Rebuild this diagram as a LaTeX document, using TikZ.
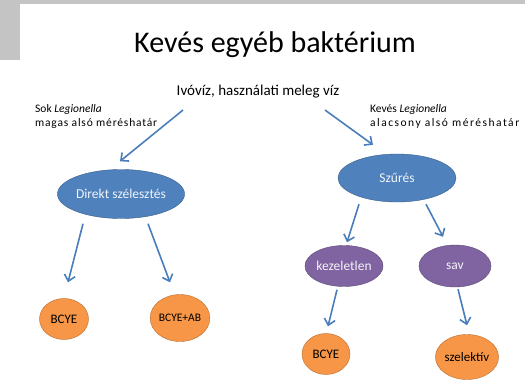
\documentclass[tikz,border=0pt]{standalone}
\usepackage{fontspec}
\setmainfont{Carlito}
\usetikzlibrary{arrows.meta, positioning, calc, shapes.geometric}

\definecolor{kekfill}{HTML}{4F81BD}
\definecolor{kekline}{HTML}{385D8A}
\definecolor{lilafill}{HTML}{8064A2}
\definecolor{lilaline}{HTML}{5C4776}
\definecolor{narancsfill}{HTML}{F79646}
\definecolor{narancsline}{HTML}{B66D31}
\definecolor{nyil}{HTML}{4A7EBB}
\definecolor{keret}{HTML}{C4C4C4}

\begin{document}
\begin{tikzpicture}[
    x=1pt, y=-1pt,
    >={Straight Barb[length=6pt, width=11pt]},
    arr/.style={->, draw=nyil, line width=1.6pt},
    kek/.style={draw=kekline, fill=kekfill, ellipse, inner sep=0pt, text=white!92!kekfill, font=\fontsize{13.5}{15}\selectfont},
    lila/.style={draw=lilaline, fill=lilafill, ellipse, inner sep=0pt, text=white!92!lilafill, font=\fontsize{13.5}{15}\selectfont},
    narancs/.style={draw=narancsline, fill=narancsfill, ellipse, inner sep=0pt, text=black, font=\fontsize{13}{14}\selectfont},
    megj/.style={align=left, anchor=north west, inner sep=0pt, font=\fontsize{11.5}{14}\selectfont}
  ]
  \useasboundingbox (0,0) rectangle (525,383);
  % --- keret ---
  \fill[keret] (0,0) rectangle (525,4);
  \fill[keret] (0,0) rectangle (20,60);

  % --- cim ---
  \node (cim) at (275,45) {\fontsize{30}{33}\selectfont Kevés egyéb baktérium};
  \node (ivo) at (258,92) {\fontsize{15}{17}\selectfont Ivóvíz, használati meleg víz};
  \node[megj] (sok) at (35,104) {Sok \textit{Legionella}\\ \addfontfeature{LetterSpace=7}magas alsó méréshatár};
  \node[megj] (keves) at (370,104) {Kevés \textit{Legionella}\\ \addfontfeature{LetterSpace=13}alacsony alsó méréshatár};

  % --- bal ag ---
  \node[kek, minimum width=117pt, minimum height=49pt] (direkt) at (121,194) {Direkt szélesztés};
  \node[narancs, minimum width=49pt, minimum height=41pt] (bcyea) at (64,319) {BCYE};
  \node[narancs, minimum width=53pt, minimum height=47pt, font=\fontsize{11.5}{13}\selectfont] (bcyeab) at (180,318) {BCYE+AB};

  % --- jobb ag ---
  \node[kek, minimum width=118pt, minimum height=48pt] (szures) at (397,178) {Szűrés};
  \node[lila, minimum width=71pt, minimum height=41pt] (kez) at (344,266) {kezeletlen};
  \node[lila, minimum width=72pt, minimum height=42pt] (sav) at (455,266) {sav};
  \node[narancs, minimum width=48pt, minimum height=41pt] (bcyeb) at (326,354) {BCYE};
  \node[narancs, minimum width=49pt, minimum height=45pt] (szel) at (467,357) {szelektív};

  % --- nyilak ---
  \draw[arr] ($(ivo.south)+(-75,8)$) -- ($(direkt.north)+(-1,-8)$);
  \draw[arr] ($(ivo.south)+(67,8)$) -- ($(szures.north)+(-24,-9)$);
  \draw[arr] ($(direkt.south)+(-38,5)$) -- ($(bcyea.north)+(4,-16)$);
  \draw[arr] ($(direkt.south)+(27,5)$) -- ($(bcyeab.north)+(-10,-12)$);
  \draw[arr] ($(szures.south)+(-38,2)$) -- ($(kez.north)+(3,-3)$);
  \draw[arr] ($(szures.south)+(29,2)$) -- ($(sav.north)+(-12,-8)$);
  \draw[arr] ($(kez.south)+(-7,3)$) -- ($(bcyeb.north)+(2,-7)$);
  \draw[arr] ($(sav.south)+(3,2)$) -- ($(szel.north)+(0,-9)$);
\end{tikzpicture}
\end{document}
